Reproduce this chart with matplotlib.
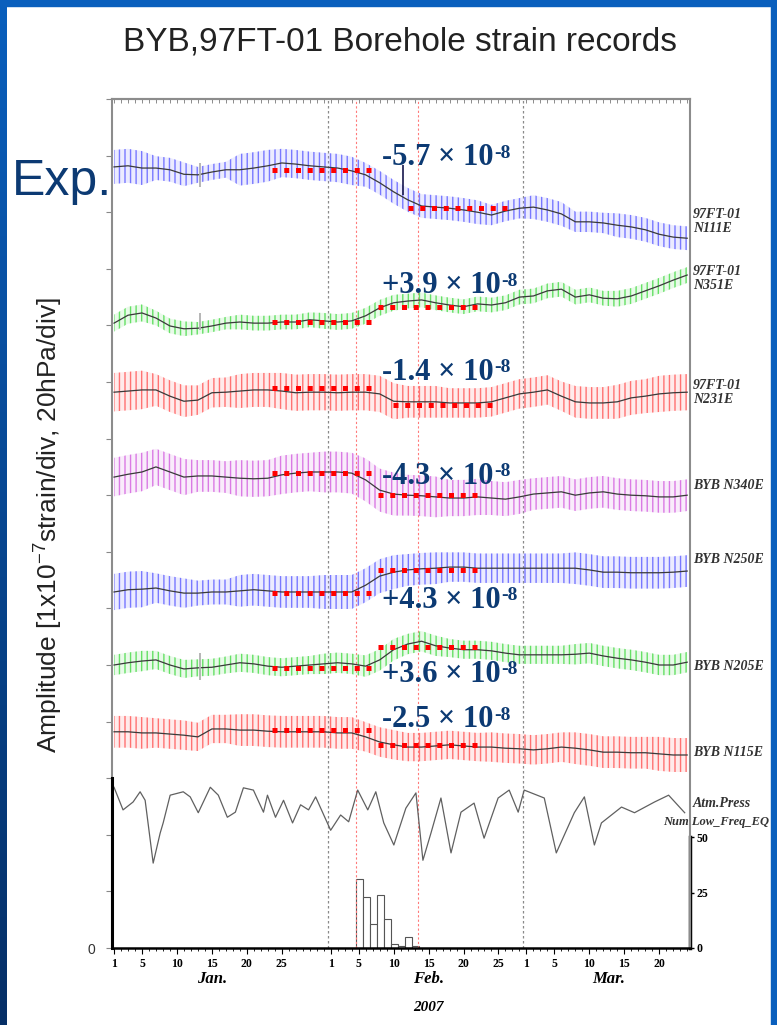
import numpy as np
import matplotlib
matplotlib.use("Agg")
import matplotlib.pyplot as plt
import matplotlib.transforms as mtransforms
from matplotlib.ticker import MultipleLocator, FixedLocator, NullFormatter

plt.rcParams['mathtext.fontset'] = 'custom'
plt.rcParams['mathtext.rm'] = 'Liberation Sans'
plt.rcParams['hatch.linewidth'] = 1.0

# dias desde el 1 de enero de 2007 (cada 2 dias)
dias = np.arange(0, 83, 2)

# nivel medio (linea negra) de cada registro, en div (1 div = 1e-7 strain)
n111e = [13.80, 13.82, 13.78, 13.78, 13.75, 13.67, 13.66, 13.71, 13.75, 13.75, 13.78, 13.82, 13.87, 13.85,
         13.82, 13.80, 13.78, 13.73, 13.66, 13.52, 13.36, 13.22, 13.11, 13.09, 13.07, 13.04, 13.00, 12.95,
         13.02, 13.07, 13.09, 13.04, 12.97, 12.83, 12.83, 12.81, 12.77, 12.74, 12.69, 12.61, 12.56, 12.54]
n351e = [11.04, 11.18, 11.22, 11.13, 10.99, 10.94, 10.95, 10.99, 11.04, 11.06, 11.04, 11.04, 11.06, 11.06,
         11.10, 11.08, 11.06, 11.08, 11.17, 11.31, 11.40, 11.43, 11.45, 11.40, 11.36, 11.33, 11.38, 11.36,
         11.40, 11.50, 11.52, 11.61, 11.64, 11.50, 11.54, 11.48, 11.47, 11.52, 11.61, 11.70, 11.80, 11.89]
n231e = [9.82, 9.84, 9.86, 9.86, 9.75, 9.66, 9.68, 9.81, 9.82, 9.84, 9.86, 9.86, 9.84, 9.81,
         9.82, 9.82, 9.81, 9.82, 9.82, 9.79, 9.66, 9.65, 9.65, 9.65, 9.63, 9.63, 9.63, 9.65,
         9.72, 9.79, 9.82, 9.86, 9.75, 9.65, 9.63, 9.63, 9.65, 9.72, 9.75, 9.79, 9.81, 9.82]
n340e = [8.32, 8.37, 8.41, 8.50, 8.41, 8.32, 8.34, 8.34, 8.32, 8.30, 8.29, 8.30, 8.36, 8.39,
         8.41, 8.41, 8.41, 8.39, 8.27, 8.09, 8.02, 8.00, 7.99, 7.97, 7.95, 7.95, 7.97, 7.95,
         7.93, 7.97, 8.02, 8.04, 8.06, 8.00, 8.04, 8.06, 8.02, 8.00, 7.99, 7.97, 7.97, 8.00]
n250e = [6.29, 6.33, 6.34, 6.36, 6.31, 6.27, 6.27, 6.29, 6.29, 6.31, 6.33, 6.31, 6.29, 6.29,
         6.29, 6.29, 6.29, 6.29, 6.41, 6.57, 6.64, 6.68, 6.70, 6.71, 6.73, 6.73, 6.71, 6.71,
         6.71, 6.71, 6.71, 6.71, 6.71, 6.71, 6.68, 6.64, 6.64, 6.63, 6.63, 6.63, 6.64, 6.66]
n205e = [5.00, 5.04, 5.07, 5.09, 5.00, 4.93, 4.95, 4.96, 5.00, 5.04, 5.02, 4.98, 4.96, 4.98,
         5.00, 5.02, 5.04, 5.02, 4.98, 5.09, 5.27, 5.37, 5.42, 5.34, 5.30, 5.27, 5.27, 5.25,
         5.21, 5.18, 5.18, 5.18, 5.18, 5.19, 5.21, 5.16, 5.12, 5.09, 5.05, 5.00, 5.00, 5.05]
n115e = [3.82, 3.82, 3.80, 3.80, 3.78, 3.76, 3.73, 3.87, 3.87, 3.85, 3.85, 3.83, 3.82, 3.82,
         3.82, 3.82, 3.80, 3.80, 3.73, 3.64, 3.59, 3.55, 3.55, 3.57, 3.59, 3.57, 3.55, 3.55,
         3.53, 3.52, 3.50, 3.52, 3.55, 3.53, 3.50, 3.46, 3.46, 3.45, 3.45, 3.43, 3.41, 3.41]

# amplitud de la marea (media amplitud, div) por bloques de 6 dias
amp_n111e = [0.30, 0.21, 0.14, 0.28, 0.25, 0.25, 0.21, 0.21, 0.21, 0.18, 0.21, 0.18, 0.21, 0.21]
amp_n351e = [0.15, 0.13, 0.11, 0.13, 0.13, 0.14, 0.14, 0.13, 0.13, 0.13, 0.13, 0.13, 0.14, 0.14]
amp_n231e = [0.34, 0.28, 0.26, 0.30, 0.32, 0.32, 0.32, 0.28, 0.26, 0.26, 0.26, 0.28, 0.30, 0.32]
amp_n340e = [0.34, 0.32, 0.28, 0.32, 0.34, 0.36, 0.38, 0.36, 0.32, 0.30, 0.28, 0.28, 0.28, 0.28]
amp_n250e = [0.32, 0.26, 0.22, 0.28, 0.28, 0.30, 0.30, 0.28, 0.26, 0.26, 0.26, 0.28, 0.28, 0.28]
amp_n205e = [0.18, 0.16, 0.15, 0.16, 0.16, 0.18, 0.19, 0.18, 0.16, 0.16, 0.16, 0.18, 0.18, 0.18]
amp_n115e = [0.28, 0.26, 0.25, 0.28, 0.28, 0.28, 0.26, 0.25, 0.25, 0.26, 0.26, 0.28, 0.28, 0.30]

registros = [n111e, n351e, n231e, n340e, n250e, n205e, n115e]
amplitudes = [amp_n111e, amp_n351e, amp_n231e, amp_n340e, amp_n250e, amp_n205e, amp_n115e]
colores = ['#7878ff', '#66e066', '#ff7272', '#da7ae4', '#7878ff', '#66e066', '#ff7272']
etiquetas = ['97FT-01\nN111E', '97FT-01\nN351E', '97FT-01\nN231E', 'BYB N340E',
             'BYB N250E', 'BYB N205E', 'BYB N115E']
etiqueta_y = [12.84, 11.83, 9.82, 8.18, 6.87, 4.98, 3.46]

# saltos y picos puntuales (dia, nivel bajo, nivel alto)
picos_dia = [12.3, 12.3, 12.3, 41.3]
picos_bajo = [13.45, 10.92, 4.73, 13.30]
picos_alto = [13.87, 11.22, 5.21, 13.84]
picos_color = ['#b0b0b0', '#b0b0b0', '#b0b0b0', '#2a2a5a']

# presion atmosferica (20 hPa/div)
dias_atm = [0.0, 1.29, 2.73, 3.73, 4.45, 5.60, 6.60, 7.03, 8.03, 9.90, 10.90, 12.05, 13.77, 14.92,
            16.21, 17.36, 18.51, 19.94, 21.38, 21.95, 23.10, 24.25, 25.54, 26.69, 27.83, 28.84,
            30.99, 32.42, 33.57, 34.86, 36.30, 37.45, 38.59, 40.03, 41.75, 43.19, 44.19, 45.34,
            46.77, 48.21, 49.64, 51.51, 52.94, 54.95, 56.53, 57.82, 58.68, 61.55, 63.27, 65.85,
            67.29, 68.72, 69.73, 72.60, 74.46, 77.33, 79.34, 81.64]
atm = [2.84, 2.44, 2.58, 2.76, 2.61, 1.50, 2.03, 2.21, 2.70, 2.76, 2.67, 2.39, 2.84, 2.70,
       2.31, 2.40, 2.83, 2.79, 2.40, 2.70, 2.31, 2.61, 2.21, 2.53, 2.44, 2.67,
       2.08, 2.35, 2.23, 2.79, 2.44, 2.76, 2.21, 1.82, 2.47, 2.74, 1.55, 2.03,
       2.65, 1.68, 2.40, 2.56, 1.94, 2.65, 2.79, 2.40, 2.79, 2.65, 1.68, 2.39,
       2.67, 1.82, 2.21, 2.49, 2.39, 2.58, 2.70, 2.39]

# numero diario de sismos de baja frecuencia
dias_eq = [34.6, 35.6, 36.6, 37.6, 38.6, 39.6, 40.6, 41.6, 42.6]
num_eq = [31, 23, 11, 24, 13, 2, 1, 5, 1]

# cambios de nivel anotados
cambios = ['-5.7', '+3.9', '-1.4', '-4.3', '+4.3', '+3.6', '-2.5']
nivel_antes = [13.75, 11.06, 9.89, 8.39, 6.27, 4.95, 3.85]
nivel_despues = [13.07, 11.33, 9.59, 8.00, 6.68, 5.32, 3.59]
tramo_antes = (22.6, 37.3)
tramo_despues = [(42.1, 56.7), (37.8, 52.4), (39.9, 54.8), (37.8, 52.4), (37.8, 52.4), (37.8, 52.4), (37.8, 52.4)]
texto_y = [13.83, 11.57, 10.04, 8.20, 6.01, 4.70, 3.90]

ticks_dia = [0, 4, 9, 14, 19, 24, 31, 35, 40, 45, 50, 55, 59, 63, 68, 73, 78]
ticks_txt = ['1', '5', '10', '15', '20', '25', '1', '5', '10', '15', '20', '25', '1', '5', '10', '15', '20']
meses = ['Jan.', 'Feb.', 'Mar.']
meses_x = [14.0, 45.0, 70.7]
lineas_mes = [30.67, 58.5]
lineas_rojas = [34.62, 43.53]

W, H = 777, 1025
fig = plt.figure(figsize=(W / 100, H / 100), dpi=100)
fig.patch.set_facecolor('white')

# marco azul de la diapositiva
grad = fig.add_axes([0, 0, 7 / W, 1])
grad.imshow(np.linspace(0, 1, 256).reshape(-1, 1), aspect='auto',
            cmap=matplotlib.colors.LinearSegmentedColormap.from_list('b', ['#0a5fbd', '#052f66']))
grad.axis('off')
fig.patches.append(plt.Rectangle((0, 1 - 6 / H), 1, 6 / H, transform=fig.transFigure,
                                 color='#0a5fbd', zorder=0))
fig.patches.append(plt.Rectangle((1 - 6 / W, 0), 6 / W, 1, transform=fig.transFigure,
                                 color='#0a5fbd', zorder=0))

ax = fig.add_axes([112 / W, 1 - 948 / H, 578 / W, 849 / H])
ax.set_xlim(-0.29, 82.4)
ax.set_ylim(0, 15.0)

for x in lineas_mes:
    ax.axvline(x, color='#8a8a8a', lw=0.9, ls=(0, (2, 2)), zorder=1)
for x in lineas_rojas:
    ax.axvline(x, color='#ff7a7a', lw=0.8, ls=(0, (2, 2)), zorder=1)

for base, amp, col in zip(registros, amplitudes, colores):
    base = np.array(base)
    a = np.repeat(amp, 3)
    ax.fill_between(dias, base - a, base + a, facecolor=matplotlib.colors.to_rgba(col, 0.14),
                    edgecolor=col, hatch='|||', linewidth=0, zorder=2)
    ax.plot(dias, base, color='#3a3a3a', lw=0.9, zorder=3)

ax.vlines(picos_dia, picos_bajo, picos_alto, colors=picos_color, lw=1.3, zorder=4)

ax.plot(dias_atm, atm, color='#606060', lw=0.9, zorder=3)

tr = mtransforms.blended_transform_factory(ax.transAxes, ax.transData)
for txt, y in zip(etiquetas, etiqueta_y):
    ax.text(1.005, y, txt, transform=tr, ha='left', va='center', fontsize=10,
            family='Liberation Serif', weight='bold', style='italic', color='#333333',
            linespacing=1.1, clip_on=False)
ax.text(1.005, 2.56, 'Atm.Press', transform=tr, ha='left', va='center', fontsize=10,
        family='Liberation Serif', weight='bold', style='italic', color='#333333', clip_on=False)
ax.text(0.953, 2.23, 'Num Low_Freq_EQ', transform=tr, ha='left', va='center', fontsize=9,
        family='Liberation Serif', weight='bold', style='italic', color='#333333', clip_on=False)

# anotaciones de cambio
for i in range(len(cambios)):
    ax.plot(tramo_antes, [nivel_antes[i]] * 2, color='#ff0000', lw=3.6, ls=(0, (1, 1.35)), zorder=5)
    ax.plot(tramo_despues[i], [nivel_despues[i]] * 2, color='#ff0000', lw=3.6, ls=(0, (1, 1.35)), zorder=5)
    t = ax.text(38.3, texto_y[i], cambios[i] + ' × 10', ha='left', va='baseline',
                fontsize=22, family='Liberation Serif', weight='bold', color='#0c3a73', zorder=6)
    ax.annotate('-8', xy=(1, 1), xycoords=t, xytext=(0.5, -1), textcoords='offset points',
                ha='left', va='top', fontsize=14, family='Liberation Serif', weight='bold',
                color='#0c3a73', zorder=6)

# ejes
ax.xaxis.set_major_locator(FixedLocator(ticks_dia))
ax.set_xticklabels(ticks_txt, family='Liberation Serif', weight='bold', fontsize=8.5)
ax.xaxis.set_minor_locator(MultipleLocator(1))
ax.tick_params(axis='x', which='major', length=4, width=0.8, direction='out', pad=3)
ax.tick_params(axis='x', which='minor', length=2.5, width=0.6, direction='out')
ax.set_yticks([0])
ax.set_yticklabels(['0'], family='Liberation Sans', fontsize=10, color='#333333')
ax.yaxis.set_minor_locator(MultipleLocator(1))
ax.tick_params(axis='y', which='both', length=4, width=0.8, color='#888888', direction='out', pad=8)

arriba = ax.secondary_xaxis('top')
arriba.xaxis.set_major_locator(MultipleLocator(1))
arriba.xaxis.set_major_formatter(NullFormatter())
arriba.tick_params(length=3, width=0.7, direction='in', color='#8c8c8c')
arriba.spines['top'].set_color('#8c8c8c')
arriba.spines['top'].set_linewidth(1.5)

for s in ['left', 'right', 'top']:
    ax.spines[s].set_color('#8c8c8c')
    ax.spines[s].set_linewidth(1.5)
ax.spines['bottom'].set_color('black')
ax.spines['bottom'].set_linewidth(1.8)
ax.plot([-0.29, -0.29], [0, 3.0], color='black', lw=2.2, clip_on=False, zorder=6)

trx = mtransforms.blended_transform_factory(ax.transData, ax.transAxes)
for m, x in zip(meses, meses_x):
    ax.text(x, -0.0365, m, transform=trx, ha='center', va='center', fontsize=12,
            family='Liberation Serif', weight='bold', style='italic')
ax.text(45.0, -0.0695, '2007', transform=trx, ha='center', va='center', fontsize=11,
        family='Liberation Serif', weight='bold', style='italic')

# histograma en eje derecho
ax2 = ax.twinx()
ax2.set_ylim(0, 50 * 849 / 111)
ax2.bar(dias_eq, num_eq, width=1.0, align='edge', facecolor='white', edgecolor='#555555',
        linewidth=0.8, zorder=2)
ax2.set_yticks([0, 25, 50])
ax2.set_yticklabels(['0', '25', '50'], family='Liberation Serif', weight='bold', fontsize=8.5)
ax2.tick_params(axis='y', length=3, width=1, pad=2)
for s in ['left', 'top', 'bottom']:
    ax2.spines[s].set_visible(False)
ax2.spines['right'].set_bounds(0, 50)
ax2.spines['right'].set_linewidth(2.5)
ax2.spines['right'].set_color('black')

ax.set_zorder(ax2.get_zorder() + 1)
ax.patch.set_visible(False)

fig.text(48 / W, 1 - 525 / H, 'Amplitude [1x10$^{-7}$strain/div, 20hPa/div]', rotation=90,
         ha='center', va='center', fontsize=19, family='Liberation Sans', color='#222222')
fig.text(400 / W, 1 - 42 / H, 'BYB,97FT-01 Borehole strain records', ha='center', va='center',
         fontsize=24, family='Liberation Sans', color='#222222')
fig.text(12 / W, 1 - 182 / H, 'Exp.', ha='left', va='center', fontsize=36,
         family='Liberation Sans', color='#0c3a73')

fig.savefig('out.png', dpi=100)
